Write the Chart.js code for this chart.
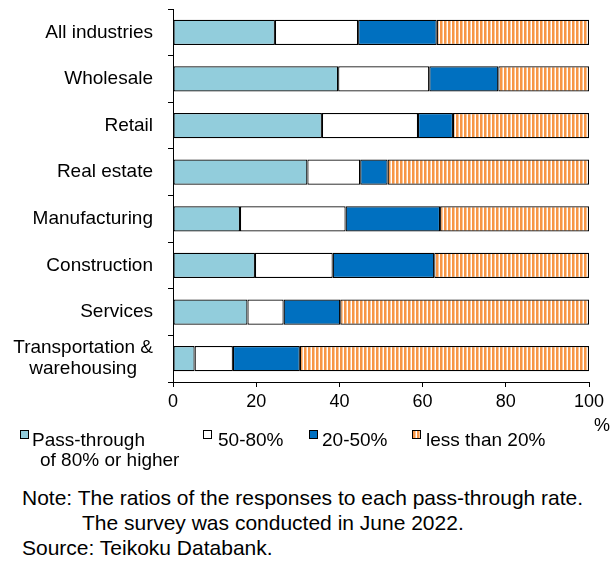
<!DOCTYPE html>
<html>
<head>
<meta charset="utf-8">
<script src="https://cdn.jsdelivr.net/npm/chart.js@4.4.0/dist/chart.umd.min.js"></script>
<style>
  html, body { margin: 0; padding: 0; background: #fff; }
  body { width: 616px; height: 562px; position: relative; overflow: hidden;
         font-family: "Liberation Sans", Arial, sans-serif; color: #000; }
  #wrap { position: absolute; left: 0; top: 0; width: 616px; height: 420px; }
  .t { position: absolute; white-space: nowrap; font-size: 19px; line-height: 19px; }
  .n { position: absolute; white-space: nowrap; font-size: 21px; line-height: 21px; }
  .sq { position: absolute; width: 7px; height: 7px; border: 1px solid #000; }
</style>
</head>
<body>
<div id="wrap"><canvas id="c" width="616" height="420"></canvas></div>

<div class="sq" style="left:20px;top:430px;background:#92CDDC"></div>
<div class="t" style="left:32px;top:430px;">Pass-through</div>
<div class="t" style="left:40px;top:450px;">of 80% or higher</div>
<div class="sq" style="left:203px;top:430px;background:#fff"></div>
<div class="t" style="left:218px;top:430px;">50-80%</div>
<div class="sq" style="left:309px;top:430px;background:#0070C0"></div>
<div class="t" style="left:322px;top:430px;">20-50%</div>
<div class="sq" id="sq4" style="left:412px;top:430px;background:#F9B27A"></div>
<div class="t" style="left:426px;top:430px;">less than 20%</div>
<div class="t" style="left:594px;top:416px;font-size:18px;">%</div>

<div class="n" style="left:22px;top:487px;">Note: The ratios of the responses to each pass-through rate.</div>
<div class="n" style="left:82px;top:512px;">The survey was conducted in June 2022.</div>
<div class="n" style="left:22px;top:537px;">Source: Teikoku Databank.</div>

<script>
const categories = [
  ["All industries"], ["Wholesale"], ["Retail"], ["Real estate"],
  ["Manufacturing"], ["Construction"], ["Services"],
  ["Transportation &", "warehousing"]
];
const seriesNames = ["Pass-through of 80% or higher", "50-80%", "20-50%", "less than 20%"];
const pass80   = [24.5, 39.7, 35.8, 32.3, 16.1, 19.7, 17.9, 5.2];
const pass5080 = [20.0, 21.9, 23.1, 12.7, 25.4, 18.7, 8.7, 9.2];
const pass2050 = [18.9, 16.6, 8.4, 6.6, 22.7, 24.4, 13.6, 16.1];
const passLt20 = [36.6, 21.8, 32.7, 48.4, 35.8, 37.2, 59.8, 69.5];
const xTicks = [0, 20, 40, 60, 80, 100];

// vertical stripe pattern for "less than 20%"
const pc = document.createElement('canvas');
pc.width = 4; pc.height = 4;
const pctx = pc.getContext('2d');
pctx.fillStyle = '#fff'; pctx.fillRect(0, 0, 4, 4);
pctx.fillStyle = '#F79646'; pctx.fillRect(0, 0, 2, 4);
pctx.fillStyle = '#FBC79A'; pctx.fillRect(2, 0, 1, 4);
const ctx = document.getElementById('c').getContext('2d');
const stripe = ctx.createPattern(pc, 'repeat');

const FONT = '"Liberation Sans", Arial, sans-serif';

const yLabelPlugin = {
  id: 'yLabels',
  afterDraw(chart) {
    const y = chart.scales.y;
    const c = chart.ctx;
    c.save();
    c.font = '19px ' + FONT;
    c.fillStyle = '#000';
    c.textBaseline = 'middle';
    c.textAlign = 'center';
    const right = 153;
    const lh = 21;
    categories.forEach((lines, i) => {
      const cy = y.getPixelForValue(i);
      const w = Math.max(...lines.map(l => c.measureText(l).width));
      const cx = right - w / 2;
      const y0 = cy - (lines.length - 1) * lh / 2;
      lines.forEach((l, k) => c.fillText(l, cx, y0 + k * lh));
    });
    c.restore();
  }
};

const ds = (label, data, color) => ({
  label, data, backgroundColor: color, borderColor: '#000', borderWidth: 1.2,
  borderSkipped: false, barPercentage: 0.54, categoryPercentage: 1
});

new Chart(ctx, {
  type: 'bar',
  data: {
    labels: categories.map(l => l.join(' ')),
    datasets: [
      ds(seriesNames[0], pass80, '#92CDDC'),
      ds(seriesNames[1], pass5080, '#FFFFFF'),
      ds(seriesNames[2], pass2050, '#0070C0'),
      ds(seriesNames[3], passLt20, stripe)
    ]
  },
  options: {
    indexAxis: 'y',
    responsive: false,
    animation: false,
    layout: { padding: { top: 9, right: 27, left: 0, bottom: 0 } },
    plugins: { legend: { display: false }, tooltip: { enabled: false } },
    scales: {
      x: {
        stacked: true, min: 0, max: 100,
        afterBuildTicks: s => { s.ticks = xTicks.map(v => ({ value: v })); },
        afterFit: s => { s.height = 38; },
        ticks: { color: '#000', font: { family: FONT, size: 18 }, padding: 4 },
        grid: { drawOnChartArea: false, color: '#000', tickLength: 5, lineWidth: 1 },
        border: { color: '#000', width: 1 }
      },
      y: {
        stacked: true,
        afterFit: s => { s.width = 173; },
        ticks: { color: 'rgba(0,0,0,0)', font: { family: FONT, size: 1 } },
        grid: { offset: true, drawOnChartArea: false, color: '#000', tickLength: 5, lineWidth: 1 },
        border: { color: '#000', width: 1 }
      }
    }
  },
  plugins: [yLabelPlugin]
});

// legend swatch for stripe
const sq4 = document.getElementById('sq4');
sq4.style.background = 'repeating-linear-gradient(90deg,#F79646 0 2px,#FBC79A 2px 3px,#fff 3px 4px)';
</script>
</body>
</html>
